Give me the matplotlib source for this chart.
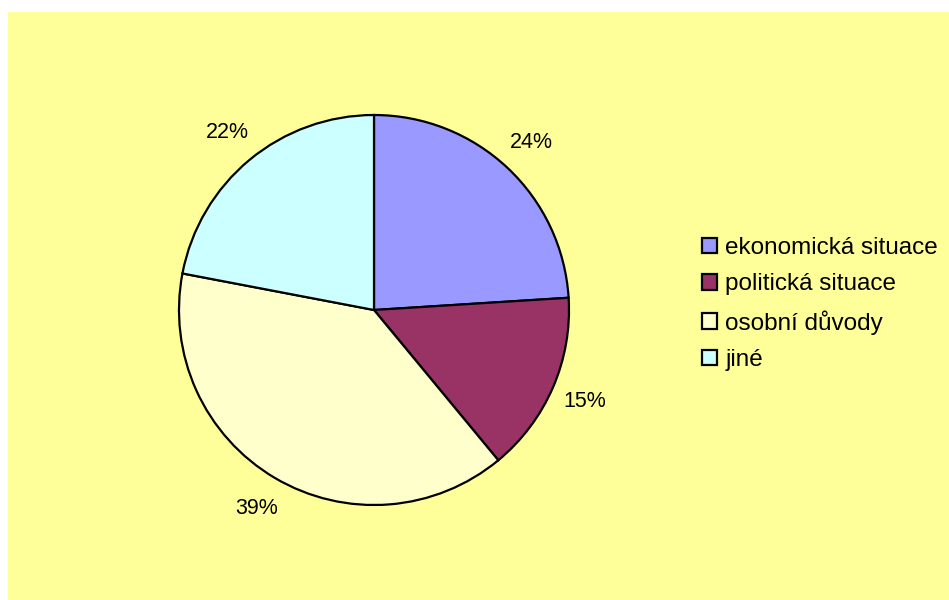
import matplotlib.pyplot as plt
from matplotlib.patches import Rectangle

plt.rcParams['font.family'] = ['Liberation Sans', 'DejaVu Sans']

# reasons, in percent
categories = ["ekonomická situace", "politická situace", "osobní důvody", "jiné"]
shares = [24, 15, 39, 22]
colors = ["#9999FF", "#993366", "#FFFFCC", "#CCFFFF"]

W, H = 949, 600
fig = plt.figure(figsize=(W / 100, H / 100), dpi=100)
fig.patch.set_facecolor("white")

# yellow chart area
fig.patches.append(Rectangle((8 / W, 0), 1 - 8 / W, 1 - 12 / H,
                             transform=fig.transFigure, facecolor="#FFFF99",
                             edgecolor="none", zorder=-5))

# pie: centre (374, 310) px, radius 195 px
cx, cy, r = 374, 310, 195
ax = fig.add_axes([(cx - r) / W, (H - cy - r) / H, 2 * r / W, 2 * r / H])
ax.set_zorder(2)
ax.set_facecolor("none")
wedges, texts, pcts = ax.pie(shares, colors=colors, startangle=90, counterclock=False,
                             autopct="%.0f%%", pctdistance=1.18, radius=1,
                             wedgeprops=dict(edgecolor="black", linewidth=1.6),
                             textprops=dict(fontsize=15.5, color="black"))
ax.set_xlim(-1, 1)
ax.set_ylim(-1, 1)
ax.set_aspect("equal")
ax.axis("off")

leg = fig.legend(wedges, categories, loc="center left",
                 bbox_to_anchor=(702 / W, (H - 304) / H), frameon=False,
                 fontsize=17.5, handlelength=0.6, handleheight=0.6,
                 handletextpad=0.35, labelspacing=0.6,
                 borderpad=0, borderaxespad=0)
leg.set_zorder(3)
for h in leg.legend_handles:
    h.set_linewidth(1.6)

fig.savefig("out.png", dpi=100, facecolor=fig.get_facecolor())
